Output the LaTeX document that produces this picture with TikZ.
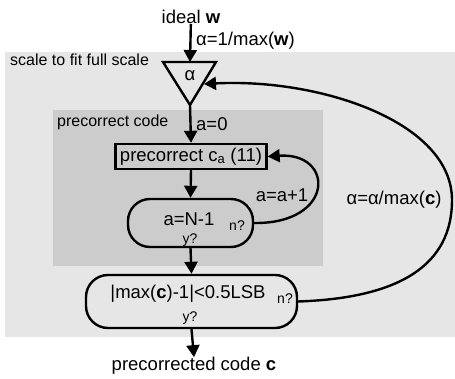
\documentclass[tikz,border=0pt]{standalone}
\usepackage{fontspec}
\setmainfont{Liberation Sans}
\usetikzlibrary{arrows.meta}
\definecolor{outergray}{RGB}{230,230,230}
\definecolor{innergray}{RGB}{204,204,204}
\begin{document}
\begin{tikzpicture}[x=1pt,y=-1pt,
  every node/.style={font=\fontsize{18.5}{21}\selectfont, inner sep=0pt},
  areal/.style={font=\fontsize{16}{19}\selectfont},
  small/.style={font=\fontsize{14}{16}\selectfont},
  arr/.style={line width=2.4pt, -{Triangle[length=12pt,width=13pt]}},
  plain/.style={line width=2.4pt},
  stepbox/.style={draw, line width=2.4pt, minimum width=151pt, minimum height=25pt},
  testbox/.style={draw, line width=2.4pt, rounded corners=22pt}]
\useasboundingbox (0,0) rectangle (455,379);
\fill[outergray] (5,52) rectangle (455,337);
\fill[innergray] (53,110) rectangle (323,266);
\node[areal, anchor=west] (lbl1) at (10,60) {scale to fit full scale};
\node[areal, anchor=west] (lbl2) at (57,122) {precorrect code};
% input
\node (in) at (191,17) {ideal \textbf{w}};
\node[anchor=west] (lin) at (196,41) {α=1/max(\textbf{w})};
% triangle
\coordinate (tl) at (163,62);
\coordinate (tr) at (216,62);
\coordinate (tb) at (190,105);
\coordinate (ttop) at (190,62);
\coordinate (tin) at (204,84);
\draw[plain, line join=miter] (tl) -- (tr) -- (tb) -- cycle;
\node (alpha) at (190,76) {α};
\draw[arr] (in) -- (ttop);
% precorrect box
\node[stepbox] (pc) at (191,156.5) {precorrect c\textsubscript{a} (11)};
\draw[arr] (tb) -- (pc.north);
\node[anchor=west] (la0) at (196,124) {a=0};
% inner test
\node[testbox, minimum width=125pt, minimum height=48pt] (chk) at (190.5,223) {};
\node (chkt) at (189,219) {a=N-1};
\node[small] (chkn) at (237,226) {n?};
\node[small] (chky) at (190,240) {y?};
\draw[arr] (pc.south) -- (chk.north);
\draw[arr] (chk.east) .. controls (335,224) and (335,152) .. (pc.east);
\node (linc) at (282,195) {a=a+1};
% outer test
\node[testbox, minimum width=211pt, minimum height=53pt] (fin) at (191.5,301.5) {};
\node (fint) at (188,294) {|max(\textbf{c})-1|<0.5LSB};
\node[small] (finn) at (285,299) {n?};
\node[small] (finy) at (190,318) {y?};
\draw[arr] (chk.south) -- (fin.north);
\node (out) at (194,366) {precorrected code \textbf{c}};
\draw[arr] (fin.south) -- (out.north);
\coordinate (far) at (452,200);
\draw[arr] (fin.east) .. controls (400,298) and (452,265) .. (far)
  .. controls (452,122) and (320,78) .. (tin);
\node (lscale) at (394,200) {α=α/max(\textbf{c})};
\end{tikzpicture}
\end{document}
